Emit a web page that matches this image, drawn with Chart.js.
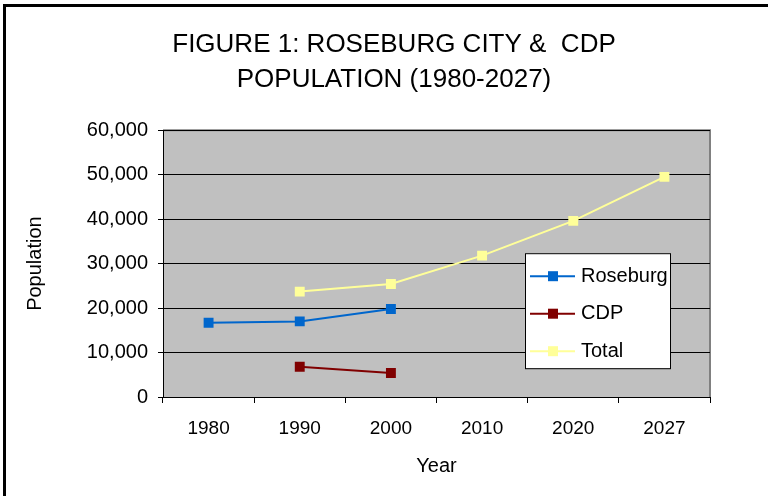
<!DOCTYPE html>
<html>
<head>
<meta charset="utf-8">
<script src="https://cdn.jsdelivr.net/npm/chart.js@4"></script>
<style>
  html, body { margin: 0; padding: 0; background: #fff; }
  #wrap { width: 768px; height: 496px; }
</style>
</head>
<body>
<div id="wrap"><canvas id="pop-chart" width="768" height="496"></canvas></div>
<script>
var years = ['1980', '1990', '2000', '2010', '2020', '2027'];
var roseburg = [16700, 17000, 19800, null, null, null];
var cdp = [null, 6800, 5400, null, null, null];
var total = [null, 23700, 25400, 31800, 39600, 49500];
var yTicks = [0, 10000, 20000, 30000, 40000, 50000, 60000];

var seriesNames = ['Roseburg', 'CDP', 'Total'];
var seriesColors = ['#0066CC', '#800000', '#FFFF99'];

var font = "'Liberation Sans', Arial, sans-serif";

// grey plot area + frame round the figure
var backdrop = {
    id: 'backdrop',
    beforeDraw: function (chart) {
        var ctx = chart.ctx, a = chart.chartArea;
        ctx.save();
        ctx.fillStyle = '#fff';
        ctx.fillRect(0, 0, chart.width, chart.height);
        ctx.fillStyle = '#C0C0C0';
        ctx.fillRect(a.left, a.top, a.right - a.left, a.bottom - a.top);
        ctx.strokeStyle = '#808080';
        ctx.lineWidth = 2;
        ctx.beginPath();
        ctx.moveTo(a.left, a.top);
        ctx.lineTo(a.right, a.top);
        ctx.lineTo(a.right, a.bottom);
        ctx.stroke();
        ctx.strokeStyle = '#000';
        ctx.lineWidth = 3;
        ctx.beginPath();
        ctx.moveTo(4.5, chart.height);
        ctx.lineTo(4.5, 5.5);
        ctx.lineTo(chart.width, 5.5);
        ctx.stroke();
        ctx.restore();
    }
};

// Excel style legend box inside the plot
var boxLegend = {
    id: 'boxLegend',
    afterDatasetsDraw: function (chart) {
        var ctx = chart.ctx, a = chart.chartArea;
        var x = a.right - 185, y = a.top + 123, w = 145, h = 115;
        ctx.save();
        ctx.fillStyle = '#fff';
        ctx.fillRect(x, y, w, h);
        ctx.strokeStyle = '#000';
        ctx.lineWidth = 1;
        ctx.strokeRect(x + 0.5, y + 0.5, w, h);
        ctx.font = '20px ' + font;
        ctx.textBaseline = 'middle';
        for (let i = 0; i < seriesNames.length; i++) {
            var cy = y + 23 + i * 37.5;
            ctx.strokeStyle = seriesColors[i];
            ctx.lineWidth = 2;
            ctx.beginPath();
            ctx.moveTo(x + 5, cy);
            ctx.lineTo(x + 50, cy);
            ctx.stroke();
            ctx.fillStyle = seriesColors[i];
            ctx.fillRect(x + 23, cy - 5, 10, 10);
            ctx.fillStyle = '#000';
            ctx.fillText(seriesNames[i], x + 56, cy);
        }
        ctx.restore();
    }
};

var datasets = [roseburg, cdp, total].map(function (vals, i) {
    return {
        label: seriesNames[i],
        data: vals,
        borderColor: seriesColors[i],
        backgroundColor: seriesColors[i],
        borderWidth: 2,
        pointStyle: 'rect',
        pointRadius: 7,
        pointBorderWidth: 0,
        spanGaps: false,
        tension: 0
    };
});

new Chart(document.getElementById('pop-chart'), {
    type: 'line',
    data: { labels: years, datasets: datasets },
    options: {
        responsive: false,
        animation: false,
        layout: { padding: { left: 20, right: 0, top: 0, bottom: 0 } },
        plugins: {
            legend: { display: false },
            tooltip: { enabled: false },
            title: {
                display: true,
                text: ['FIGURE 1: ROSEBURG CITY &  CDP', 'POPULATION (1980-2027)'],
                color: '#000',
                font: { family: font, size: 26, weight: 'normal', lineHeight: 1.35 },
                padding: { top: 27, bottom: 33 }
            }
        },
        scales: {
            x: {
                offset: true,
                grid: { offset: true, drawOnChartArea: false, color: '#000', tickLength: 6 },
                border: { color: '#000', width: 1 },
                ticks: { color: '#000', font: { family: font, size: 19 }, padding: 14, maxRotation: 0 },
                title: { display: true, text: 'Year', color: '#000', font: { family: font, size: 20 }, padding: { top: 18, bottom: 18 } },
                afterFit: function (s) { s.height = 99; }
            },
            y: {
                min: 0,
                max: 60000,
                afterBuildTicks: function (s) { s.ticks = yTicks.map(function (v) { return { value: v }; }); },
                grid: { color: '#000', tickLength: 5 },
                border: { color: '#000', width: 1 },
                ticks: {
                    color: '#000',
                    font: { family: font, size: 20 },
                    padding: 10,
                    callback: function (v) { return v.toLocaleString('en-US'); }
                },
                title: { display: true, text: 'Population', color: '#000', font: { family: font, size: 20 }, padding: { top: 3, bottom: 3 } },
                afterFit: function (s) { s.width = 143; }
            },
            y2: {
                position: 'right',
                display: true,
                grid: { drawOnChartArea: false, drawTicks: false },
                border: { display: false },
                ticks: { display: false },
                afterFit: function (s) { s.width = 58; }
            }
        }
    },
    plugins: [backdrop, boxLegend]
});
</script>
</body>
</html>
